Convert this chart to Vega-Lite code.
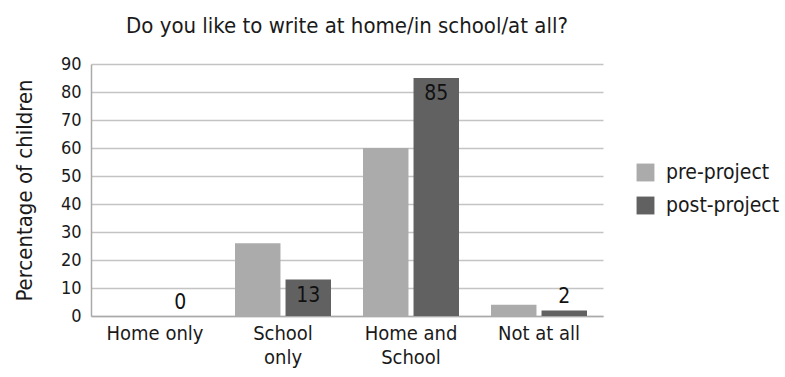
{
  "$schema": "https://vega.github.io/schema/vega-lite/v6.json",
  "width": 512,
  "height": 252,
  "autosize": "none",
  "padding": {"left": 91, "top": 64, "right": 182, "bottom": 61},
  "background": "white",
  "title": {
    "text": "Do you like to write at home/in school/at all?",
    "font": "DejaVu Sans Condensed",
    "fontSize": 22,
    "fontWeight": "normal",
    "color": "#1a1a1a",
    "anchor": "middle",
    "offset": 17
  },
  "config": {
    "font": "DejaVu Sans Condensed",
    "view": {"stroke": null}
  },
  "data": {
    "values": [
      {"category": "Home only", "series": "pre-project", "value": 0},
      {"category": "Home only", "series": "post-project", "value": 0},
      {"category": "School only", "series": "pre-project", "value": 26},
      {"category": "School only", "series": "post-project", "value": 13},
      {"category": "Home and School", "series": "pre-project", "value": 60},
      {"category": "Home and School", "series": "post-project", "value": 85},
      {"category": "Not at all", "series": "pre-project", "value": 4},
      {"category": "Not at all", "series": "post-project", "value": 2}
    ]
  },
  "encoding": {
    "x": {
      "field": "category",
      "type": "nominal",
      "sort": ["Home only", "School only", "Home and School", "Not at all"],
      "scale": {"paddingInner": 0.25, "paddingOuter": 0.125},
      "axis": {
        "title": null,
        "labelAngle": 0,
        "labelFont": "DejaVu Sans Condensed",
        "labelFontSize": 20,
        "labelColor": "#1a1a1a",
        "labelPadding": 7,
        "labelLineHeight": 24,
        "ticks": false,
        "domainColor": "#aaaaaa",
        "domainWidth": 1.5,
        "labelExpr": "datum.label == 'School only' ? ['School', 'only'] : datum.label == 'Home and School' ? ['Home and', 'School'] : datum.label"
      }
    },
    "xOffset": {
      "field": "series",
      "type": "nominal",
      "sort": ["pre-project", "post-project"],
      "scale": {"paddingInner": 0.1}
    },
    "y": {
      "field": "value",
      "type": "quantitative",
      "scale": {"domain": [0, 90], "nice": false},
      "axis": {
        "title": "Percentage of children",
        "titleFont": "DejaVu Sans Condensed",
        "titleFontSize": 22,
        "titleFontWeight": "normal",
        "titleColor": "#1a1a1a",
        "titlePadding": 24,
        "values": [0, 10, 20, 30, 40, 50, 60, 70, 80, 90],
        "labelFont": "DejaVu Sans Condensed",
        "labelFontSize": 18,
        "labelColor": "#1a1a1a",
        "labelPadding": 10,
        "ticks": false,
        "grid": true,
        "gridColor": "#c4c4c4",
        "gridWidth": 1.5,
        "domainColor": "#aaaaaa",
        "domainWidth": 1.5
      }
    }
  },
  "layer": [
    {
      "mark": {"type": "bar"},
      "encoding": {
        "color": {
          "field": "series",
          "type": "nominal",
          "sort": ["pre-project", "post-project"],
          "scale": {"domain": ["pre-project", "post-project"], "range": ["#ababab", "#616161"]},
          "legend": {
            "title": null,
            "orient": "none",
            "legendX": 544,
            "legendY": 98,
            "symbolType": "square",
            "symbolSize": 320,
            "symbolStrokeWidth": 0,
            "labelFont": "DejaVu Sans Condensed",
            "labelFontSize": 21,
            "labelColor": "#1a1a1a",
            "labelOffset": 10,
            "rowPadding": 11
          }
        }
      }
    },
    {
      "transform": [{"filter": "datum.series == 'post-project' && datum.value >= 10"}],
      "mark": {"type": "text", "baseline": "top", "dy": 5, "fontSize": 21, "color": "#111111"},
      "encoding": {"text": {"field": "value", "type": "quantitative"}}
    },
    {
      "transform": [{"filter": "datum.series == 'post-project' && datum.value < 10"}],
      "mark": {"type": "text", "baseline": "bottom", "dy": -3, "fontSize": 21, "color": "#111111"},
      "encoding": {"text": {"field": "value", "type": "quantitative"}}
    }
  ]
}
